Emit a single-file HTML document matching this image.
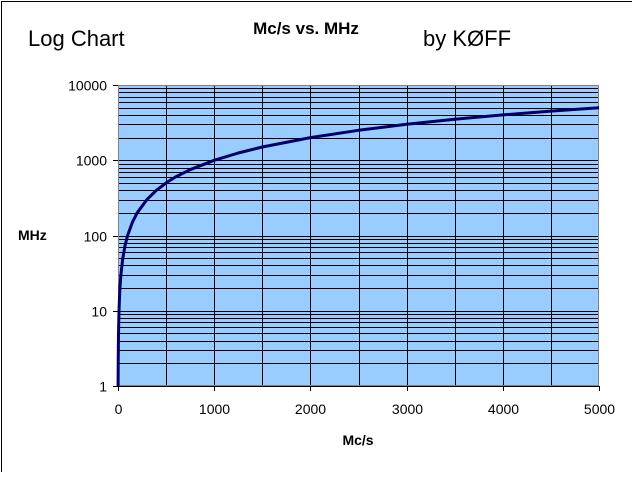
<!DOCTYPE html>
<html><head><meta charset="utf-8"><style>
body{margin:0;background:#fff;width:640px;height:480px;overflow:hidden;font-family:"Liberation Sans",Arial,sans-serif}
</style></head><body>
<svg width="640" height="480" xmlns="http://www.w3.org/2000/svg" font-family="Liberation Sans, Arial, sans-serif">
<line x1="1" y1="1.5" x2="632" y2="1.5" stroke="#000"/>
<line x1="1.5" y1="1" x2="1.5" y2="472" stroke="#000"/>
<text x="28" y="46" font-size="22">Log Chart</text>
<text x="306" y="34" font-size="17" font-weight="bold" text-anchor="middle">Mc/s vs. MHz</text>
<text x="423" y="46" font-size="22">by KØFF</text>
<text x="18" y="240" font-size="14" font-weight="bold">MHz</text>
<text x="358" y="445" font-size="14" font-weight="bold" text-anchor="middle">Mc/s</text>
<g id="plot"></g>
</svg>
<script>
const xValues=[1,2,5,10,20,30,50,75,100,150,200,300,400,500,600,750,1000,1250,1500,2000,2500,3000,3500,4000,4500,5000];
const yValues=[1,2,5,10,20,30,50,75,100,150,200,300,400,500,600,750,1000,1250,1500,2000,2500,3000,3500,4000,4500,5000];
const xTicks=[0,1000,2000,3000,4000,5000];
const yTicks=[1,10,100,1000,10000];
const L=118,R=599,T=85,B=386;
const xMax=5000,yMin=1,yMax=10000;
const NS="http://www.w3.org/2000/svg";
const sx=v=>L+(v/xMax)*(R-L);
const sy=v=>B-(Math.log10(v)-Math.log10(yMin))/(Math.log10(yMax)-Math.log10(yMin))*(B-T);
const g=document.getElementById('plot');
function mk(t,a){const e=document.createElementNS(NS,t);for(const k in a)e.setAttribute(k,a[k]);g.appendChild(e);return e;}
let bg=mk('rect',{x:L,y:T,width:R-L,height:B-T,fill:'#99CCFF'});


for(let d=1;d<yMax;d*=10){for(let m=1;m<=10;m++){const v=d*m;const y=Math.round(sy(v))+0.5;
 const l=mk('line',{x1:L,x2:R,y1:y,y2:y,stroke:'#000','stroke-width':1});
 
 }}
for(let v=500;v<xMax;v+=500){const x=Math.round(sx(v))+0.5;
 const l=mk('line',{x1:x,x2:x,y1:T,y2:B,stroke:'#000','stroke-width':1});
 
 }
const bd=mk('rect',{x:L+0.5,y:T+0.5,width:R-L-1,height:B-T-1,fill:'none',stroke:'#808080'});


yTicks.forEach(v=>{const y=Math.round(sy(v))+0.5;
 const t=mk('line',{x1:L-5,x2:L,y1:y,y2:y,stroke:'#000'});
 
 
 const tx=mk('text',{x:L-11,y:y+5,'font-size':14,'text-anchor':'end'});tx.textContent=v;
 
 });
xTicks.forEach(v=>{const x=Math.round(sx(v))+0.5;
 const t=mk('line',{x1:x,x2:x,y1:B,y2:B+5,stroke:'#000'});
 
 
 const tx=mk('text',{x:x,y:B+28,'font-size':14,'text-anchor':'middle'});tx.textContent=v;
 
 });
const pts=xValues.map((v,i)=>sx(v).toFixed(1)+','+sy(yValues[i]).toFixed(1)).join(' ');
const line=mk('polyline',{points:pts,fill:'none',stroke:'#000066','stroke-width':3,'stroke-linejoin':'round'});


</script>
</body></html>
